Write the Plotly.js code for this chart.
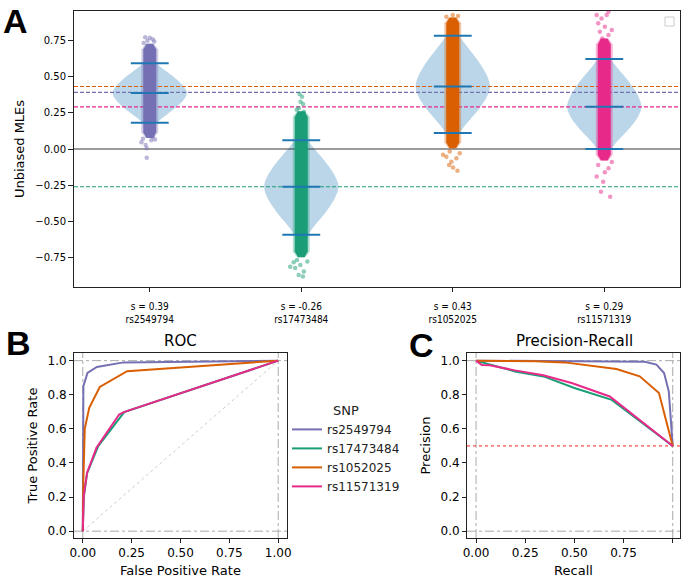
<!DOCTYPE html>
<html><head><meta charset="utf-8">
<script src="https://cdn.plot.ly/plotly-3.0.1.min.js"></script>
<style>html,body{margin:0;padding:0;background:#fff}#chart{width:686px;height:578px}</style>
</head><body><div id="chart"></div>
<script>
// ---------------- DATA ----------------
const snps = ['rs2549794', 'rs17473484', 'rs1052025', 'rs11571319'];
const sValues = [0.39, -0.26, 0.43, 0.29];
const snpColors = ['#7570b3', '#1b9e77', '#d95f02', '#e7298a'];
const tickLabelsA = ['s = 0.39<br>rs2549794', 's = -0.26<br>rs17473484', 's = 0.43<br>rs1052025', 's = 0.29<br>rs11571319'];

// violin summary (min / mean / max bars)
const violinMin = [0.18, -0.59, 0.11, 0.00];
const violinMean = [0.385, -0.26, 0.43, 0.29];
const violinMax = [0.59, 0.06, 0.78, 0.62];
// relative violin width profile (distance from mean as fraction of half-extent -> width fraction)
const violinProfileT = [0, 0.1, 0.25, 0.4, 0.55, 0.7, 0.85, 1.0];
const violinProfileW = [1, 0.98, 0.9, 0.78, 0.64, 0.48, 0.32, 0.17];

// dense core of the jittered MLE points
const coreLow = [0.075, -0.745, 0.005, -0.08];
const coreHigh = [0.725, 0.26, 0.905, 0.76];

// sparse tail points (jitter offset, value)
const tailDx0 = [-0.03, 0.0, 0.02, -0.015, 0.03, -0.04, -0.055, -0.027, 0.01, -0.02, -0.02, 0.02, -0.045, 0.035];
const tailY0 = [0.77, 0.765, 0.755, 0.745, 0.74, 0.73, 0.046, 0.027, 0.06, 0.005, -0.06, 0.085, 0.07, 0.065];
const tailDx1 = [-0.011, 0.005, -0.005, 0.012, -0.016, 0.017, -0.03, -0.028, -0.006, -0.04, 0.017, -0.017, 0.011, -0.05, 0.04, -0.073];
const tailY1 = [0.378, 0.36, 0.326, 0.31, 0.28, 0.257, 0.27, -0.764, -0.798, -0.82, -0.844, -0.867, -0.878, -0.78, -0.775, -0.81];
const tailDx2 = [-0.042, 0.035, 0.0, -0.02, -0.042, 0.024, -0.009, -0.024, 0.002, 0.031, -0.064, 0.046];
const tailY2 = [0.91, 0.915, 0.922, -0.018, -0.053, -0.064, -0.087, -0.11, -0.128, -0.149, -0.04, -0.03];
const tailDx3 = [0.028, -0.05, -0.018, 0.016, -0.04, 0.004, -0.029, 0.028, 0.05, -0.013, -0.04, 0.028, -0.05, -0.007, -0.022, 0.039, 0.004, 0.05];
const tailY3 = [0.945, 0.922, 0.899, 0.922, 0.865, 0.842, 0.807, 0.784, 0.82, 0.76, -0.11, -0.133, -0.19, -0.225, -0.294, -0.328, -0.16, -0.09];

// ROC curves (FPR, TPR)
const rocFpr0 = [0, 0.003, 0.024, 0.072, 0.208, 1];
const rocTpr0 = [0, 0.85, 0.928, 0.963, 0.99, 1];
const rocFpr1 = [0, 0.005, 0.022, 0.079, 0.212, 1];
const rocTpr1 = [0, 0.2, 0.34, 0.499, 0.698, 1];
const rocFpr2 = [0, 0.003, 0.01, 0.033, 0.087, 0.227, 1];
const rocTpr2 = [0, 0.3, 0.6, 0.723, 0.846, 0.938, 1];
const rocFpr3 = [0, 0.005, 0.022, 0.07, 0.186, 0.21, 1];
const rocTpr3 = [0, 0.207, 0.343, 0.489, 0.684, 0.698, 1];

// Precision-recall curves
const prRec0 = [0, 0.45, 0.858, 0.917, 0.956, 0.98, 1];
const prPre0 = [1, 0.998, 0.994, 0.977, 0.928, 0.82, 0.5];
const prRec1 = [0, 0.046, 0.198, 0.35, 0.5, 0.69, 1];
const prPre1 = [1, 0.986, 0.937, 0.905, 0.84, 0.77, 0.5];
const prRec2 = [0, 0.3, 0.45, 0.714, 0.832, 0.93, 1];
const prPre2 = [1, 0.997, 0.99, 0.951, 0.908, 0.81, 0.5];
const prRec3 = [0, 0.029, 0.07, 0.198, 0.342, 0.486, 0.68, 1];
const prPre3 = [1, 0.975, 0.973, 0.943, 0.914, 0.869, 0.79, 0.5];

// ---------------- BUILD ----------------
const W = 686, H = 578;
const px = v => v / W;
const py = v => 1 - v / H;
const violinHalfWidth = 0.245;
const barHalf = 0.125;
const FONT = 'DejaVu Sans, Arial, sans-serif';
const tailDx = [tailDx0, tailDx1, tailDx2, tailDx3];
const tailY = [tailY0, tailY1, tailY2, tailY3];
const rocF = [rocFpr0, rocFpr1, rocFpr2, rocFpr3];
const rocT = [rocTpr0, rocTpr1, rocTpr2, rocTpr3];
const prR = [prRec0, prRec1, prRec2, prRec3];
const prP = [prPre0, prPre1, prPre2, prPre3];

function hexA(hex, a) {
  const r = parseInt(hex.slice(1, 3), 16), g = parseInt(hex.slice(3, 5), 16), b = parseInt(hex.slice(5, 7), 16);
  return `rgba(${r},${g},${b},${a})`;
}

const traces = [];
// violins
snps.forEach((s, i) => {
  const right = [], left = [];
  for (let k = violinProfileT.length - 1; k >= 0; k--) {
    right.push([i + violinProfileW[k] * violinHalfWidth, violinMean[i] + violinProfileT[k] * (violinMax[i] - violinMean[i])]);
  }
  for (let k = 1; k < violinProfileT.length; k++) {
    right.push([i + violinProfileW[k] * violinHalfWidth, violinMean[i] - violinProfileT[k] * (violinMean[i] - violinMin[i])]);
  }
  for (let k = right.length - 1; k >= 0; k--) left.push([2 * i - right[k][0], right[k][1]]);
  const pts = right.concat(left);
  traces.push({
    type: 'scatter', mode: 'lines', x: pts.map(p => p[0]), y: pts.map(p => p[1]),
    fill: 'toself', fillcolor: 'rgba(31,119,180,0.3)', line: {width: 0, shape: 'spline', smoothing: 0.6},
    xaxis: 'x', yaxis: 'y', showlegend: false, hoverinfo: 'skip'
  });
});
// horizontal reference lines
traces.push({
  type: 'scatter', mode: 'lines', x: [-0.5, 3.5], y: [0, 0], line: {color: '#222', width: 0.9},
  xaxis: 'x', yaxis: 'y', showlegend: false, hoverinfo: 'skip'
});
[2, 0, 3, 1].forEach(i => {
  traces.push({
    type: 'scatter', mode: 'lines', x: [-0.5, 3.5], y: [sValues[i], sValues[i]],
    line: {color: snpColors[i], width: 1.1, dash: '4px,2px'},
    xaxis: 'x', yaxis: 'y', showlegend: false, hoverinfo: 'skip'
  });
});
// point clouds
snps.forEach((s, i) => {
  const lo = coreLow[i], hi = coreHigh[i];
  [[0.056, 0.35], [0.043, 1]].forEach(([hw, op]) => {
    traces.push({
      type: 'scatter', mode: 'lines',
      x: [i - hw * 0.5, i + hw * 0.5, i + hw, i + hw, i + hw * 0.5, i - hw * 0.5, i - hw, i - hw, i - hw * 0.5],
      y: [lo, lo, lo + 0.04, hi - 0.04, hi, hi, hi - 0.04, lo + 0.04, lo],
      fill: 'toself', fillcolor: hexA(snpColors[i], op), line: {width: 0},
      xaxis: 'x', yaxis: 'y', showlegend: false, hoverinfo: 'skip'
    });
  });
  traces.push({
    type: 'scatter', mode: 'markers', x: tailDx[i].map(d => i + d), y: tailY[i],
    marker: {color: snpColors[i], size: 4.5, opacity: 0.5, line: {width: 0}},
    xaxis: 'x', yaxis: 'y', showlegend: false, hoverinfo: 'skip'
  });
});
// violin min/mean/max bars
const bx = [], by = [];
snps.forEach((s, i) => {
  [violinMin[i], violinMean[i], violinMax[i]].forEach(v => {
    bx.push(i - barHalf, i + barHalf, null);
    by.push(v, v, null);
  });
});
traces.push({
  type: 'scatter', mode: 'lines', x: bx, y: by, line: {color: '#1f77b4', width: 2},
  xaxis: 'x', yaxis: 'y', showlegend: false, hoverinfo: 'skip'
});
// ROC diagonal
traces.push({
  type: 'scatter', mode: 'lines', x: [0, 1], y: [0, 1], line: {color: '#aaa', width: 0.6, dash: 'dot'},
  xaxis: 'x2', yaxis: 'y2', showlegend: false, hoverinfo: 'skip'
});
// ROC & PR curves
snps.forEach((s, i) => {
  traces.push({
    type: 'scatter', mode: 'lines', name: s, x: rocF[i], y: rocT[i],
    line: {color: snpColors[i], width: 2}, xaxis: 'x2', yaxis: 'y2', showlegend: true, legendgroup: s
  });
});
snps.forEach((s, i) => {
  traces.push({
    type: 'scatter', mode: 'lines', name: s, x: prR[i], y: prP[i],
    line: {color: snpColors[i], width: 2}, xaxis: 'x3', yaxis: 'y3', showlegend: false, legendgroup: s
  });
});

const axBase = {
  showline: true, mirror: true, linecolor: '#222', linewidth: 1, showgrid: false, zeroline: false,
  ticks: 'outside', tickcolor: '#222', ticklen: 4, tickwidth: 1, fixedrange: true
};
const shapes = [];
function vline(xa, ya, x, color, dash, w) {
  shapes.push({type: 'line', xref: xa, yref: ya + ' domain', x0: x, x1: x, y0: 0, y1: 1, layer: 'below', line: {color, width: w, dash}});
}
function hline(xa, ya, y, color, dash, w) {
  shapes.push({type: 'line', xref: xa + ' domain', yref: ya, x0: 0, x1: 1, y0: y, y1: y, layer: 'below', line: {color, width: w, dash}});
}
['x2', 'x3'].forEach((xa, k) => {
  const ya = k === 0 ? 'y2' : 'y3';
  vline(xa, ya, 0, '#aaa', 'dashdot', 1);
  vline(xa, ya, 1, '#aaa', 'dashdot', 1);
  hline(xa, ya, 0, '#aaa', 'dashdot', 1);
  hline(xa, ya, 1, '#aaa', 'dashdot', 1);
});
hline('x3', 'y3', 0.5, '#ff2020', 'dot', 1);
// empty legend box of panel A
shapes.push({type: 'rect', xref: 'paper', yref: 'paper', x0: px(665), x1: px(674), y0: py(26), y1: py(17),
  line: {color: '#cccccc', width: 1}, fillcolor: 'white'});

const annotations = [
  {text: '<b>A</b>', x: px(1), y: 1, yanchor: 'top'},
  {text: '<b>B</b>', x: px(4), y: py(343.5), yanchor: 'middle'},
  {text: '<b>C</b>', x: px(407), y: py(345), yanchor: 'middle'}
].map(a => Object.assign(a, {xref: 'paper', yref: 'paper', showarrow: false, xanchor: 'left',
  font: {family: 'Liberation Sans, Arial, sans-serif', size: 34, color: '#000'}}));
annotations.push({text: 'ROC', x: px(180.5), y: py(340.7), xref: 'paper', yref: 'paper', showarrow: false,
  xanchor: 'center', yanchor: 'middle', font: {family: FONT, size: 15, color: '#000'}});
annotations.push({text: 'Precision-Recall', x: px(574), y: py(340.7), xref: 'paper', yref: 'paper', showarrow: false,
  xanchor: 'center', yanchor: 'middle', font: {family: FONT, size: 15, color: '#000'}});

const layout = {
  width: W, height: H, margin: {l: 0, r: 0, t: 0, b: 0},
  paper_bgcolor: '#fff', plot_bgcolor: '#fff',
  font: {family: FONT, size: 12, color: '#000'},
  xaxis: Object.assign({}, axBase, {
    domain: [px(74), px(680)], anchor: 'y', range: [-0.5, 3.5],
    tickvals: [0, 1, 2, 3], ticktext: tickLabelsA, ticklen: 4, ticklabelstandoff: 6,
    tickfont: {family: 'DejaVu Sans Condensed, DejaVu Sans', size: 10}
  }),
  yaxis: Object.assign({}, axBase, {
    domain: [py(287), py(11)], anchor: 'x', range: [-0.95, 0.95],
    tickvals: [-0.75, -0.5, -0.25, 0, 0.25, 0.5, 0.75], tickformat: '.2f', ticklen: 5,
    tickfont: {size: 10},
    title: {text: 'Unbiased MLEs', font: {size: 13}, standoff: 7}
  }),
  xaxis2: Object.assign({}, axBase, {
    domain: [px(74), px(287)], anchor: 'y2', range: [-0.045, 1.045],
    tickvals: [0, 0.25, 0.5, 0.75, 1], tickformat: '.2f', tickfont: {size: 12},
    title: {text: 'False Positive Rate', font: {size: 13}, standoff: 6}
  }),
  yaxis2: Object.assign({}, axBase, {
    domain: [py(538), py(353)], anchor: 'x2', range: [-0.04, 1.045],
    tickvals: [0, 0.2, 0.4, 0.6, 0.8, 1], tickformat: '.1f', tickfont: {size: 12},
    title: {text: 'True Positive Rate', font: {size: 13}, standoff: 6}
  }),
  xaxis3: Object.assign({}, axBase, {
    domain: [px(467), px(680)], anchor: 'y3', range: [-0.046, 1.037],
    tickvals: [0, 0.25, 0.5, 0.75, 1], tickformat: '.2f', tickfont: {size: 12},
    title: {text: 'Recall', font: {size: 13}, standoff: 6}
  }),
  yaxis3: Object.assign({}, axBase, {
    domain: [py(538), py(353)], anchor: 'x3', range: [-0.04, 1.045],
    tickvals: [0, 0.2, 0.4, 0.6, 0.8, 1], tickformat: '.1f', tickfont: {size: 12},
    title: {text: 'Precision', font: {size: 13}, standoff: 6}
  }),
  showlegend: true,
  legend: {
    x: px(287), y: py(398), xanchor: 'left', yanchor: 'top',
    bgcolor: 'rgba(0,0,0,0)', borderwidth: 0, font: {size: 12, color: '#222'},
    title: {text: 'SNP', side: 'top center', font: {size: 13}},
    tracegroupgap: 0
  },
  shapes, annotations
};

Plotly.newPlot('chart', traces, layout, {displayModeBar: false, staticPlot: true});
</script></body></html>
